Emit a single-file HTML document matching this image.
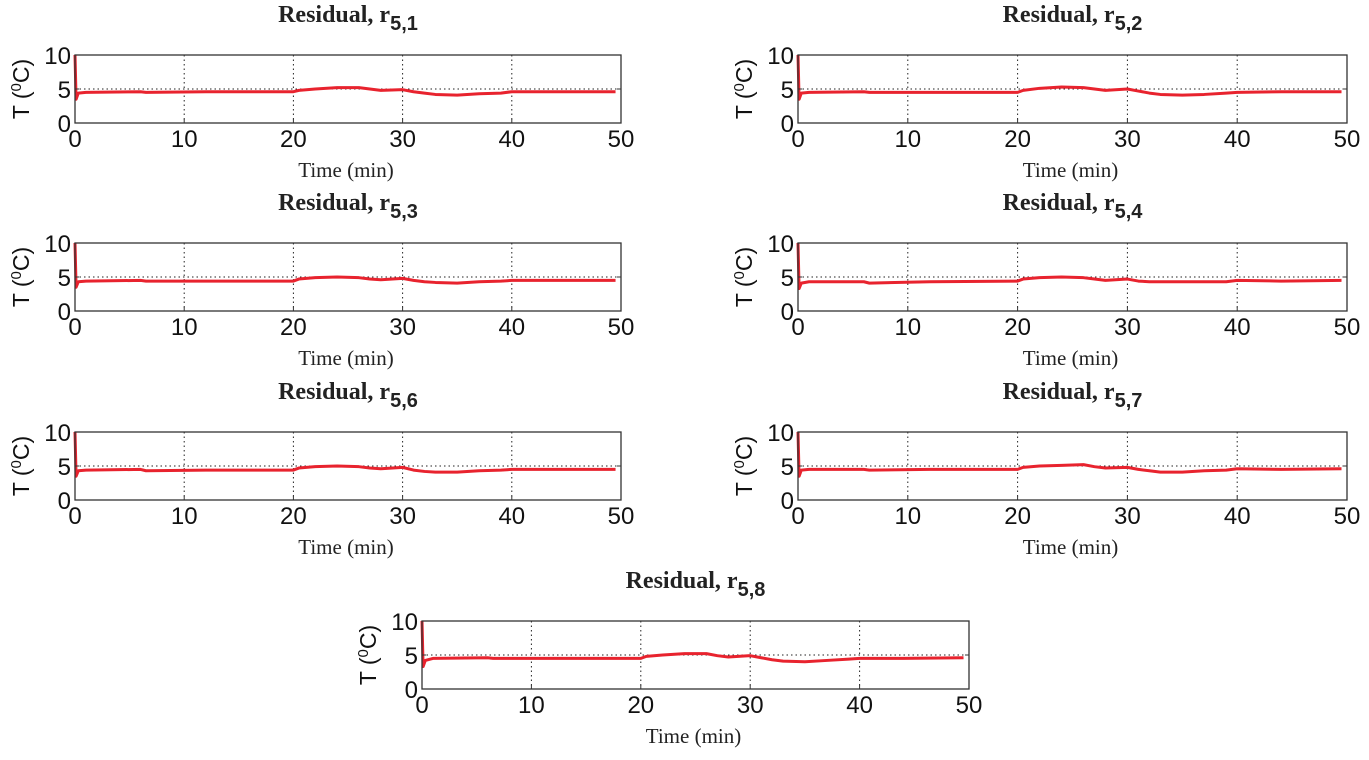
<!DOCTYPE html>
<html><head><meta charset="utf-8"><style>
body{margin:0;background:#fff;width:1369px;height:760px;overflow:hidden}
svg{display:block}
.tick{font-family:"Liberation Sans",sans-serif;font-size:24px;fill:#111}
.title{font-family:"Liberation Serif",serif;font-size:24px;font-weight:bold;fill:#222}
.sub{font-family:"Liberation Sans",sans-serif;font-weight:bold;font-size:20px;fill:#222}
.xl{font-family:"Liberation Serif",serif;font-size:21px;fill:#222}
.yl{font-family:"Liberation Sans",sans-serif;font-size:23px;fill:#111}
</style></head><body>
<svg id="fig" width="1369" height="760"></svg>
<script>
const times=[0,0.1,0.3,1,6,6.5,12,20,20.5,22,24,26,27,28,30,31,32,33,35,37,39,40,44,49.5];
const seriesR51=[10,3.5,4.4,4.5,4.6,4.5,4.6,4.6,4.8,5.0,5.2,5.2,5.0,4.8,4.9,4.6,4.4,4.2,4.1,4.3,4.4,4.6,4.6,4.6];
const seriesR52=[10,3.5,4.4,4.5,4.6,4.5,4.5,4.5,4.8,5.1,5.3,5.2,5.0,4.8,5.0,4.7,4.4,4.2,4.1,4.2,4.4,4.5,4.6,4.6];
const seriesR53=[10,3.5,4.3,4.4,4.5,4.4,4.4,4.4,4.7,4.9,5.0,4.9,4.7,4.6,4.8,4.5,4.3,4.2,4.1,4.3,4.4,4.5,4.5,4.5];
const seriesR54=[10,3.3,4.1,4.3,4.3,4.1,4.3,4.4,4.7,4.9,5.0,4.9,4.7,4.5,4.7,4.4,4.3,4.3,4.3,4.3,4.3,4.5,4.4,4.5];
const seriesR56=[10,3.5,4.3,4.4,4.5,4.3,4.4,4.4,4.7,4.9,5.0,4.9,4.7,4.6,4.8,4.4,4.2,4.1,4.1,4.3,4.4,4.5,4.5,4.5];
const seriesR57=[10,3.5,4.4,4.5,4.5,4.4,4.5,4.5,4.8,5.0,5.1,5.2,4.9,4.7,4.8,4.5,4.3,4.1,4.1,4.3,4.4,4.6,4.5,4.6];
const seriesR58=[10,3.3,4.2,4.5,4.6,4.5,4.5,4.5,4.8,5.0,5.2,5.2,4.9,4.7,4.9,4.6,4.3,4.1,4.0,4.2,4.4,4.5,4.5,4.6];
const xTicks=[0,10,20,30,40,50];
const yTicks=[0,5,10];
const panels=[
 {sub:"5,1",data:seriesR51,x0:75,x1:621,y0:55},
 {sub:"5,2",data:seriesR52,x0:798,x1:1347,y0:55},
 {sub:"5,3",data:seriesR53,x0:75,x1:621,y0:243},
 {sub:"5,4",data:seriesR54,x0:798,x1:1347,y0:243},
 {sub:"5,6",data:seriesR56,x0:75,x1:621,y0:432},
 {sub:"5,7",data:seriesR57,x0:798,x1:1347,y0:432},
 {sub:"5,8",data:seriesR58,x0:422,x1:969,y0:621}
];
const NS="http://www.w3.org/2000/svg";
const svg=document.getElementById('fig');
function mk(tag,attrs,parent,text){const e=document.createElementNS(NS,tag);for(const k in attrs)e.setAttribute(k,attrs[k]);if(text!==undefined)e.textContent=text;(parent||svg).appendChild(e);return e;}
panels.forEach((p,i)=>{
 const H=68,y1=p.y0+H;
 const sx=v=>p.x0+(p.x1-p.x0)*v/50;
 const sy=v=>y1-H*v/10;
 const g=mk('g',{});
 
 
 const cx=(p.x0+p.x1)/2;
 const t=mk('text',{x:cx,y:p.y0-33,'text-anchor':'middle',class:'title'},g);
 
 
 mk('tspan',{},t,'Residual, r');
 mk('tspan',{class:'sub',dy:8},t,p.sub);
 xTicks.slice(1,-1).forEach(v=>{const l=mk('line',{x1:sx(v),x2:sx(v),y1:p.y0,y2:y1,stroke:'#222','stroke-width':1,'stroke-dasharray':'1.5,3'},g);
  });
 const hg=mk('line',{x1:p.x0,x2:p.x1,y1:sy(5),y2:sy(5),stroke:'#222','stroke-width':1,'stroke-dasharray':'1.5,3'},g);
 
 const pts=times.map((tv,k)=>sx(tv)+','+sy(p.data[k])).join(' ');
 const ln=mk('polyline',{points:pts,fill:'none',stroke:'#e8232e','stroke-width':3,'stroke-linejoin':'round'},g);
 
 const r=mk('rect',{x:p.x0,y:p.y0,width:p.x1-p.x0,height:H,fill:'none',stroke:'#333','stroke-width':1.3},g);
 
 xTicks.forEach(v=>{const tx=mk('text',{x:sx(v),y:y1+24,'text-anchor':'middle',class:'tick'},g,String(v));
  
  mk('line',{x1:sx(v),x2:sx(v),y1:y1,y2:y1-4,stroke:'#333'},g);});
 yTicks.forEach(v=>{const tx=mk('text',{x:p.x0-4,y:sy(v)+9,'text-anchor':'end',class:'tick'},g,String(v));
  
  mk('line',{x1:p.x0,x2:p.x0+4,y1:sy(v),y2:sy(v),stroke:'#333'},g);
  mk('line',{x1:p.x1,x2:p.x1-4,y1:sy(v),y2:sy(v),stroke:'#333'},g);});
 const xl=mk('text',{x:cx-2,y:y1+54,'text-anchor':'middle',class:'xl'},g,'Time (min)');
 
 const yx=p.x0-46,yy=p.y0+H/2;
 const yl=mk('text',{x:yx,y:yy,'text-anchor':'middle',class:'yl',transform:`rotate(-90 ${yx} ${yy})`},g);
 
 mk('tspan',{},yl,'T (');
 mk('tspan',{dy:-8,'font-size':15},yl,'0');
 mk('tspan',{dy:8},yl,'C)');
});
</script>
</body></html>
